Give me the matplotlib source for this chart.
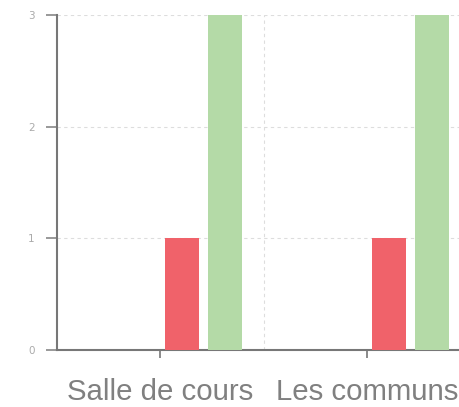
import numpy as np
import matplotlib
matplotlib.use("Agg")
import matplotlib.pyplot as plt

categories = ["Salle de cours", "Les communs"]
series_a = [0, 0]
series_b = [0, 0]
series_red = [1, 1]
series_green = [3, 3]
y_ticks = [0, 1, 2, 3]

colors = ["#8fb3d9", "#f5c26b", "#f0626a", "#b4daa7"]
all_series = [series_a, series_b, series_red, series_green]

W, H = 459, 407
fig = plt.figure(figsize=(W / 100, H / 100), dpi=100)
ax = fig.add_axes([57 / W, (H - 350) / H, 413.5 / W, 335 / H])

x = np.arange(len(categories))
step = 0.208
width = 0.164
for i, (vals, col) in enumerate(zip(all_series, colors)):
    ax.bar(x + (i - 1.5) * step, vals, width, color=col, zorder=3)

ax.set_xlim(-0.5, len(categories) - 0.5)
ax.set_ylim(0, 3)
ax.set_yticks(y_ticks)
ax.set_xticks(x)
ax.set_xticklabels(categories, fontsize=21.2, color="#808080", family="Liberation Sans")
ax.set_xticks(x[:-1] + 0.5, minor=True)
ax.tick_params(axis="x", which="minor", length=0)
ax.tick_params(axis="x", which="major", length=6, width=1.2, color="#777777", pad=14)
ax.tick_params(axis="y", length=8, width=1.2, color="#888888", labelsize=7.5,
               labelcolor="#aaaaaa", pad=8)

ax.grid(axis="y", which="major", linestyle=(0, (3, 3)), color="#dddddd", linewidth=0.8, zorder=0)
ax.grid(axis="x", which="minor", linestyle=(0, (3, 3)), color="#dddddd", linewidth=0.8, zorder=0)

for s in ["top", "right"]:
    ax.spines[s].set_visible(False)
for s in ["left", "bottom"]:
    ax.spines[s].set_color("#777777")
    ax.spines[s].set_linewidth(1.5)

fig.savefig("out.png", dpi=100)
